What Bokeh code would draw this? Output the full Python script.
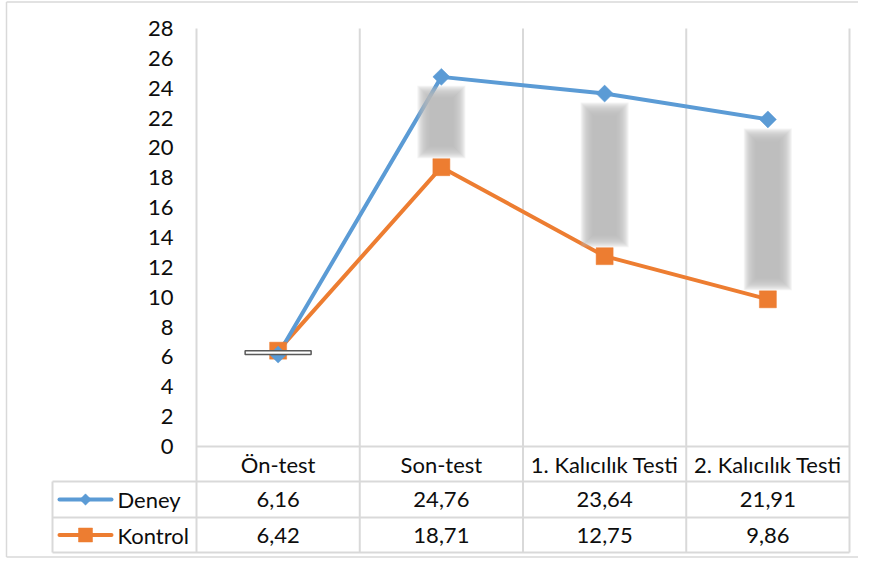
import math
from bokeh.plotting import figure
from bokeh.models import Range1d
from bokeh.core.properties import value
from bokeh.embed import file_html
from bokeh.resources import INLINE

# ---------------- data ----------------
categories = ["Ön-test", "Son-test", "1. Kalıcılık Testi", "2. Kalıcılık Testi"]
deney = [6.16, 24.76, 23.64, 21.91]
kontrol = [6.42, 18.71, 12.75, 9.86]
series_names = ["Deney", "Kontrol"]
y_ticks = [0, 2, 4, 6, 8, 10, 12, 14, 16, 18, 20, 22, 24, 26, 28]

# ---------------- styling ----------------
BLUE = "#5B9BD5"
ORANGE = "#ED7D31"
GRID = "#D9D9D9"
TXT = "#0D0D0D"
FONT = value("Lato")
FS = "22px"

W, H = 858, 558
X0_PX, CAT_PX = 196.0, 163.25
Y0_PX, Y_PX = 446.0, (446.0 - 28.0) / 28.0


def dx(px):
    return (px - X0_PX) / CAT_PX


def dy(py):
    return (Y0_PX - py) / Y_PX


p = figure(width=W, height=H,
           x_range=Range1d(dx(0), dx(W)),
           y_range=Range1d(dy(H), dy(0)),
           output_backend="svg", toolbar_location=None, min_border=0,
           x_axis_location=None, y_axis_location=None)
p.grid.visible = False
p.outline_line_color = None
p.background_fill_color = "white"
p.border_fill_color = "white"

n = len(categories)
xs = [i + 0.5 for i in range(n)]
ymax = y_ticks[-1]

# ---------------- outer chart border ----------------
p.segment(x0=[dx(6), dx(6), dx(6)], y0=[dy(1.5), dy(1.5), dy(556.5)],
          x1=[dx(W), dx(6), dx(W)], y1=[dy(1.5), dy(556.5), dy(556.5)],
          line_color=GRID, line_width=1.5)

# ---------------- grid / table lines ----------------
row_lines = [dy(481), dy(517), dy(552)]
vx = list(range(n + 1))
p.segment(x0=vx, y0=[ymax] * len(vx), x1=vx, y1=[row_lines[-1]] * len(vx),
          line_color=GRID, line_width=2)
p.segment(x0=[0], y0=[0], x1=[n], y1=[0], line_color=GRID, line_width=2)
p.segment(x0=[dx(52)] * 3, y0=row_lines, x1=[n] * 3, y1=row_lines,
          line_color=GRID, line_width=2)
p.segment(x0=[dx(52)], y0=[row_lines[0]], x1=[dx(52)], y1=[row_lines[-1]],
          line_color=GRID, line_width=2)

# ---------------- series lines ----------------
p.line(xs, kontrol, line_color=ORANGE, line_width=4, line_join="round")
p.line(xs, deney, line_color=BLUE, line_width=4, line_join="round")
p.scatter(xs, kontrol, marker="square", size=17, fill_color=ORANGE, line_color=ORANGE, line_width=0.5)
p.scatter(xs, deney, marker="square", angle=math.pi / 4, size=12,
          fill_color=BLUE, line_color=BLUE, line_width=0.5)

# ---------------- up/down bars ----------------
half_w = 33.0 / CAT_PX
soft = dict(left=[], right=[], top=[], bottom=[])
white = dict(left=[], right=[], top=[], bottom=[])
for i, (a, b) in enumerate(zip(deney, kontrol)):
    hi, lo = max(a, b), min(a, b)
    if a > b:
        for inset in range(9, 23):
            ix = inset / CAT_PX
            iy = inset / Y_PX
            soft["left"].append(xs[i] - half_w + ix)
            soft["right"].append(xs[i] + half_w - ix)
            soft["top"].append(hi - iy)
            soft["bottom"].append(lo + iy)
    else:
        white["left"].append(xs[i] - half_w)
        white["right"].append(xs[i] + half_w)
        white["top"].append(hi)
        white["bottom"].append(lo)

p.quad(**soft, fill_color="#B8B8B8", fill_alpha=0.16, line_color=None)
p.quad(**white, fill_color="white", line_color="#595959", line_width=1.5)

# ---------------- y tick labels ----------------
p.text(x=[dx(173)] * len(y_ticks), y=y_ticks, text=[str(t) for t in y_ticks],
       text_font=FONT, text_font_size=FS, text_align="right",
       text_baseline="middle", text_color=TXT)

# ---------------- table texts ----------------
row_c = [dy(463.5), dy(499), dy(534.5)]
p.text(x=xs, y=[row_c[0]] * n, text=categories, text_font=FONT, text_font_size=FS,
       text_align="center", text_baseline="middle", text_color=TXT)


def fmt(v):
    return f"{v:.2f}".replace(".", ",")


for r, (vals, color, name) in enumerate(zip([deney, kontrol], [BLUE, ORANGE], series_names)):
    yc = row_c[r + 1]
    p.text(x=xs, y=[yc] * n, text=[fmt(v) for v in vals], text_font=FONT,
           text_font_size=FS, text_align="center", text_baseline="middle", text_color=TXT)
    p.text(x=[dx(117)], y=[yc], text=[name], text_font=FONT, text_font_size=FS,
           text_align="left", text_baseline="middle", text_color=TXT)
    p.segment(x0=[dx(59)], y0=[yc], x1=[dx(111)], y1=[yc], line_color=color,
              line_width=4, line_cap="round")
    if r == 0:
        p.scatter([dx(85)], [yc], marker="square", angle=math.pi / 4, size=8,
                  fill_color=color, line_color=color, line_width=0.5)
    else:
        p.scatter([dx(85)], [yc], marker="square", size=14,
                  fill_color=color, line_color=color, line_width=0.5)

open("out.html", "w").write(file_html(p, INLINE, title="Chart"))
